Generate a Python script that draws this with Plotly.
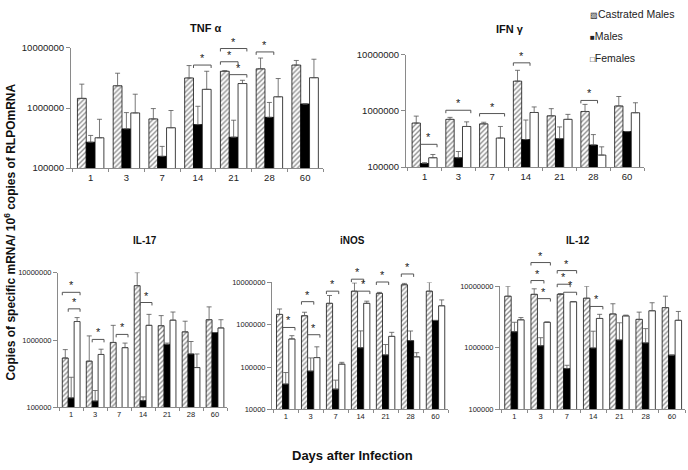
import numpy as np
import plotly.graph_objects as go

# days after infection (x categories)
days = ['1', '3', '7', '14', '21', '28', '60']
series_names = ['Castrated Males', 'Males', 'Females']

# TNF alpha: means and upper SD
tnf_cm = [1.45e6, 2.35e6, 6.6e5, 3.17e6, 4.1e6, 4.5e6, 5.2e6]
tnf_cm_sd = [1.05e6, 1.45e6, 3.2e5, 1.93e6, 1.0e5, 2.3e6, 1.0e6]
tnf_m = [2.7e5, 4.5e5, 1.57e5, 5.3e5, 3.27e5, 7.0e5, 1.17e6]
tnf_m_sd = [8.0e4, 3.9e5, 7.3e4, 5.4e5, 3.0e5, 5.4e5, 0]
tnf_f = [3.2e5, 8.3e5, 4.7e5, 2.05e6, 2.56e6, 1.54e6, 3.2e6]
tnf_f_sd = [3.3e5, 8.7e5, 4.4e5, 2.05e6, 3.4e5, 1.56e6, 3.3e6]

# IFN gamma
ifn_cm = [6.1e5, 7.1e5, 5.9e5, 3.4e6, 8.2e5, 9.8e5, 1.23e6]
ifn_cm_sd = [2.0e5, 6.0e4, 4.0e4, 1.9e6, 2.8e5, 3.3e5, 5.8e5]
ifn_m = [1.16e5, 1.47e5, None, 3.1e5, 3.2e5, 2.48e5, 4.3e5]
ifn_m_sd = [4.0e3, 4.3e4, 0, 3.8e5, 2.0e5, 1.32e5, 0]
ifn_f = [1.47e5, 5.3e5, 3.3e5, 9.4e5, 7.1e5, 1.64e5, 9.3e5]
ifn_f_sd = [2.1e4, 1.1e5, 2.0e5, 2.4e5, 1.6e5, 6.6e4, 4.7e5]

# IL-17
il17_cm = [5.4e5, 4.85e5, 9.2e5, 6.4e6, 1.63e6, 1.32e6, 2.0e6]
il17_cm_sd = [1.8e5, 6.65e5, 7.3e5, 3.6e6, 6.7e5, 5.8e5, 1.1e6]
il17_m = [1.38e5, 1.24e5, None, 1.26e5, 8.6e5, 6.2e5, 1.29e6]
il17_m_sd = [1.42e5, 5.4e4, 0, 1.7e4, 4.0e4, 3.3e5, 0]
il17_f = [1.88e6, 6.1e5, 7.7e5, 1.65e6, 1.97e6, 3.9e5, 1.51e6]
il17_f_sd = [2.7e5, 1.2e5, 1.3e5, 7.5e5, 6.3e5, 2.3e5, 4.9e5]

# iNOS
inos_cm = [1.75e6, 1.63e6, 3.2e6, 6.2e6, 5.5e6, 8.8e6, 6.2e6]
inos_cm_sd = [6.0e5, 3.4e5, 1.7e6, 3.5e6, 3.0e5, 7.0e5, 3.8e6]
inos_m = [3.95e4, 8.0e4, 3.0e4, 2.84e5, 1.93e5, 4.2e5, 1.26e6]
inos_m_sd = [3.45e4, 8.4e4, 1.9e4, 4.3e5, 1.47e5, 2.9e5, 0]
inos_f = [4.6e5, 1.67e5, 1.17e5, 3.2e6, 5.3e5, 1.74e5, 2.8e6]
inos_f_sd = [9.0e4, 1.33e5, 1.2e4, 4.0e5, 1.3e5, 4.4e4, 1.05e6]

# IL-12
il12_cm = [6.9e6, 7.4e6, 7.4e6, 6.4e6, 3.55e6, 2.9e6, 4.5e6]
il12_cm_sd = [3.1e6, 1.7e6, 2.0e5, 3.6e6, 1.65e6, 9.0e5, 2.4e6]
il12_m = [1.82e6, 1.08e6, 4.6e5, 9.9e5, 1.34e6, 1.2e6, 7.6e5]
il12_m_sd = [7.8e5, 3.8e5, 6.0e4, 8.7e5, 1.21e6, 8.5e5, 0]
il12_f = [2.85e6, 2.6e6, 5.6e6, 3.0e6, 3.3e6, 4.0e6, 2.8e6]
il12_f_sd = [2.5e5, 3.0e4, 5.0e4, 5.0e5, 1.0e5, 1.4e6, 1.1e6]

# significance brackets: (day index, bar from, bar to, level)
tnf_sig = [(3, 1, 2, 5.2e6), (4, 0, 2, 9.8e6), (4, 0, 1, 5.9e6), (4, 1, 2, 3.6e6), (5, 0, 1, 8.6e6)]
ifn_sig = [(0, 1, 2, 2.55e5), (1, 0, 2, 1.03e6), (2, 0, 2, 9.0e5), (3, 0, 1, 7.2e6), (5, 0, 1, 1.54e6)]
il17_sig = [(0, 0, 2, 5.1e6), (0, 1, 2, 2.9e6), (1, 1, 2, 1.02e6), (2, 1, 2, 1.21e6), (3, 1, 2, 3.6e6)]
inos_sig = [(0, 1, 2, 8.6e5), (1, 0, 1, 3.5e6), (1, 1, 2, 5.8e5), (2, 0, 1, 6.2e6),
            (3, 0, 1, 1.19e7), (3, 1, 2, 6.2e6), (4, 0, 1, 1.02e7), (5, 0, 1, 1.58e7)]
il12_sig = [(1, 0, 2, 2.43e7), (1, 0, 1, 1.24e7), (1, 1, 2, 6.3e6), (2, 0, 2, 1.8e7),
            (2, 0, 1, 1.08e7), (2, 1, 2, 8.0e6), (3, 1, 2, 4.7e6)]

W, H = 688, 470
FONT = 'Liberation Sans, Arial, sans-serif'
NARROW = 'Liberation Sans Narrow, Arial Narrow, Liberation Sans, sans-serif'

panels = [
    dict(title='TNF α', vals=(tnf_cm, tnf_m, tnf_f), sds=(tnf_cm_sd, tnf_m_sd, tnf_f_sd), sig=tnf_sig,
         box=(71, 323, 43, 166), yr=(5, 7), tpos=(206, 23), font=FONT, fs=9.5),
    dict(title='IFN γ', vals=(ifn_cm, ifn_m, ifn_f), sds=(ifn_cm_sd, ifn_m_sd, ifn_f_sd), sig=ifn_sig,
         box=(406, 644, 50, 165), yr=(5, 7), tpos=(510, 24), font=FONT, fs=9.5),
    dict(title='IL-17', vals=(il17_cm, il17_m, il17_f), sds=(il17_cm_sd, il17_m_sd, il17_f_sd), sig=il17_sig,
         box=(58, 227, 273, 411), yr=(5, 7), tpos=(145, 240), font=NARROW, fs=7.5),
    dict(title='iNOS', vals=(inos_cm, inos_m, inos_f), sds=(inos_cm_sd, inos_m_sd, inos_f_sd), sig=inos_sig,
         box=(272, 448, 283, 413), yr=(4, 7), tpos=(352, 240), font=NARROW, fs=7.5),
    dict(title='IL-12', vals=(il12_cm, il12_m, il12_f), sds=(il12_cm_sd, il12_m_sd, il12_f_sd), sig=il12_sig,
         box=(500, 685, 287, 413), yr=(5, 7), tpos=(578, 240), font=NARROW, fs=7.5),
]

bargap = 0.26
bw = (1 - bargap) / 3
offsets = [-bw, 0, bw]
xr = [-0.55, 6.5]

bar_styles = [
    dict(color='white', line=dict(color='#111', width=0.8),
         pattern=dict(shape='/', fgcolor='#222', bgcolor='white', size=3.5, solidity=0.4)),
    dict(color='black', line=dict(color='black', width=0.8)),
    dict(color='white', line=dict(color='#111', width=0.8)),
]

fig = go.Figure()
annotations = []
layout = {}

for k, p in enumerate(panels, start=1):
    sfx = '' if k == 1 else str(k)
    hk = k + 5
    left, right, top, bottom = p['box']
    r0, r1 = p['yr']
    xdom = [left / W, right / W]
    ydom = [1 - bottom / H, 1 - top / H]

    for s in range(3):
        vals = p['vals'][s]
        fig.add_trace(go.Bar(
            x=list(range(len(days))), y=vals, name=series_names[s],
            marker=bar_styles[s], offsetgroup=str(s),
            error_y=dict(type='data', symmetric=False, array=p['sds'][s], arrayminus=[0] * len(days),
                         color='#555', thickness=0.8, width=2.5),
            xaxis='x' + sfx, yaxis='y' + sfx, showlegend=False))

    tickvals = [10 ** e for e in range(r0, r1 + 1)]
    layout['xaxis' + sfx] = dict(
        domain=xdom, range=xr, anchor='y' + sfx, tickmode='array', tickvals=list(range(len(days))),
        ticktext=days, ticks='', showline=True, linecolor='#8a8a8a', linewidth=1, showgrid=False,
        zeroline=False, tickfont=dict(family=p['font'], size=p['fs'], color='#222'),
        minor=dict(tickmode='array', tickvals=[i - 0.5 for i in range(len(days) + 1)],
                   ticks='outside', ticklen=3, tickcolor='#8a8a8a'))
    layout['yaxis' + sfx] = dict(
        domain=ydom, type='log', range=[r0, r1], anchor='x' + sfx, tickmode='array',
        tickvals=tickvals, ticktext=[str(int(v)) for v in tickvals], ticks='outside', ticklen=4,
        tickcolor='#8a8a8a', showline=True, linecolor='#8a8a8a', linewidth=1, showgrid=False,
        zeroline=False, tickfont=dict(family=p['font'], size=p['fs'], color='#222'))

    # hidden, taller axes with the same scale so brackets can rise above the plot top
    ppd = (bottom - top) / (r1 - r0)
    ext = min(top - 2, 45)
    layout['xaxis' + str(hk)] = dict(domain=xdom, range=xr, anchor='y' + str(hk), visible=False)
    layout['yaxis' + str(hk)] = dict(domain=[ydom[0], 1 - (top - ext) / H], type='log',
                                     range=[r0, r1 + ext / ppd], anchor='x' + str(hk), visible=False)
    leg = 10 ** (-3.0 / ppd)
    bx, by = [], []
    for d, a, b, lvl in p['sig']:
        xa = d + offsets[a] - bw / 2
        xb = d + offsets[b] + bw / 2
        bx += [xa, xa, xb, xb, None]
        by += [lvl * leg, lvl, lvl, lvl * leg, None]
        annotations.append(dict(x=(xa + xb) / 2, y=np.log10(lvl), xref='x' + str(hk), yref='y' + str(hk),
                                text='*', showarrow=False, yanchor='bottom', yshift=-1,
                                font=dict(family=FONT, size=11, color='#222')))
    fig.add_trace(go.Scatter(x=bx, y=by, mode='lines', line=dict(color='#555', width=1),
                             xaxis='x' + str(hk), yaxis='y' + str(hk), showlegend=False,
                             hoverinfo='skip'))

    annotations.append(dict(x=p['tpos'][0] / W, y=1 - p['tpos'][1] / H, xref='paper', yref='paper',
                            xanchor='center', yanchor='middle',
                            text='<b>%s</b>' % p['title'], showarrow=False,
                            font=dict(family=FONT, size=11 if k <= 2 else 10, color='#111')))

# axis titles
annotations.append(dict(x=10 / W, y=1 - 232 / H, xref='paper', yref='paper', textangle=-90,
                        xanchor='center', yanchor='middle',
                        text='<b>Copies of specific mRNA/ 10<sup>6</sup> copies of RLPOmRNA</b>',
                        showarrow=False, font=dict(family=FONT, size=12, color='#111')))
annotations.append(dict(x=352 / W, y=1 - 460 / H, xref='paper', yref='paper',
                        xanchor='center', yanchor='middle',
                        text='<b>Days after Infection</b>', showarrow=False,
                        font=dict(family=FONT, size=13, color='#111')))

# legend (top right)
legend_marks = ['▨', '■', '□']
for i, (mk, nm) in enumerate(zip(legend_marks, series_names)):
    annotations.append(dict(x=588 / W, y=1 - (8 + 22.5 * i) / H, xref='paper', yref='paper',
                            xanchor='left', yanchor='middle',
                            text="<span style='font-size:8px'>%s</span>%s" % (mk, nm),
                            showarrow=False, font=dict(family=FONT, size=10.5, color='#222')))

fig.update_layout(
    width=W, height=H, margin=dict(l=0, r=0, t=0, b=0),
    paper_bgcolor='white', plot_bgcolor='rgba(0,0,0,0)',
    barmode='group', bargap=bargap, bargroupgap=0,
    showlegend=False, annotations=annotations, **layout)

fig.write_html("out.html", config={'displayModeBar': False},
               post_script="document.body.style.margin='0';")
